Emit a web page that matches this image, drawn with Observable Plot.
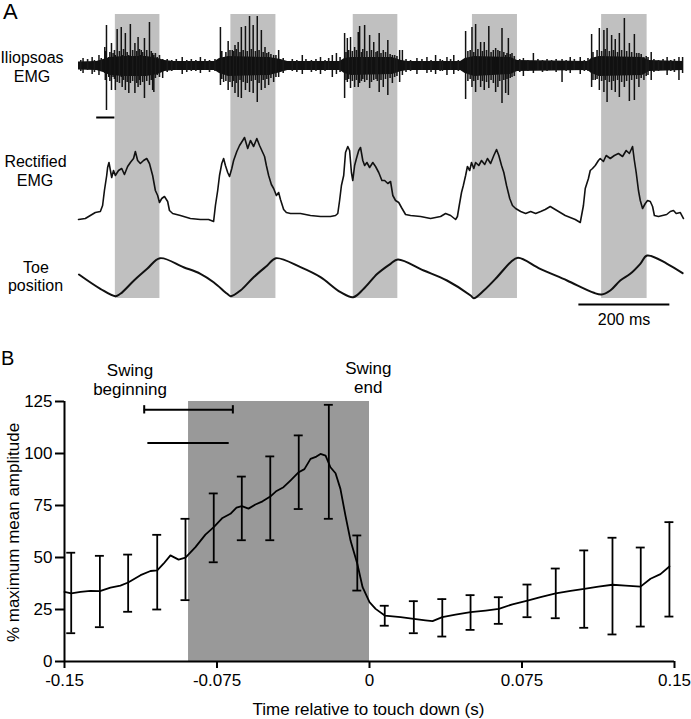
<!DOCTYPE html>
<html><head><meta charset="utf-8">
<script src="https://cdn.jsdelivr.net/npm/d3@7"></script>
<script src="https://cdn.jsdelivr.net/npm/@observablehq/plot@0.6"></script>
<style>
html,body{margin:0;padding:0;background:#fff;}
#fig{position:relative;width:691px;height:719px;overflow:hidden;font-family:"Liberation Sans",Arial,sans-serif;}
#fig svg{position:absolute;left:0;}
</style></head><body><div id="fig"></div>
<script>
// ---------- Panel A data (time in ms) ----------
const bandStart = [81, 335, 604, 866, 1150];
const bandEnd   = [179, 434, 702, 965, 1250];

// raw EMG: core envelope
const envT  = [0, 40, 55, 70, 100, 150, 175, 190, 210, 300, 310, 330, 420, 445, 460, 575, 585, 600, 690, 710, 725, 840, 850, 870, 950, 965, 1120, 1128, 1145, 1240, 1255, 1330];
const envHi = [3.5, 4, 6, 8, 9, 9, 7, 5, 4, 4, 7, 9, 8, 6, 4, 4, 7, 8, 8, 5, 4, 4, 7, 9, 8, 5, 4, 7, 9, 8, 5, 4];
const envLo = [-4.5, -5, -7, -10, -11, -11, -9, -6, -5, -5, -8, -11, -10, -7, -5, -5, -8, -10, -9, -6, -5, -5, -8, -11, -9, -6, -5, -8, -11, -10, -6, -5];

// raw EMG: large spikes
const spikeT = [10, 30, 45, 57.8, 61.5, 66.6, 72.5, 76, 81, 85, 94, 96, 103, 110.6, 114, 124, 131, 136, 138, 145, 156, 163, 165.6, 173, 185,
  228, 268, 312, 319, 329, 338, 344, 351, 358, 367, 376, 384, 393, 402, 410, 418, 429, 440, 492, 532, 558, 567,
  585, 591, 598, 607, 615, 618, 629, 640, 649, 661, 670, 680, 690, 706, 712, 744, 766, 785, 810, 825,
  851, 865, 873, 884, 892, 902, 912, 917, 922, 931, 939, 945, 953, 978, 1000, 1063, 1081, 1103,
  1128, 1136, 1145, 1155, 1162, 1172, 1180, 1189, 1200, 1211, 1222, 1232, 1243, 1259, 1294, 1320, 1328];
const spikeUp = [7, 8, 10, 18, 40, 8, 22, 12, 10, 36, 38, 10, 32, 10, 41, 22, 28, 10, 15, 27, 43, 12, 10, 8, 6,
  8, 8, 38, 8, 24, 15, 20, 23, 38, 39, 49, 40, 49, 35, 18, 13, 10, 15, 10, 8, 10, 12,
  32, 27, 28, 18, 33, 39, 40, 30, 23, 32, 15, 25, 10, 15, 15, 7, 8, 10, 8, 10,
  34, 38, 41, 23, 23, 39, 15, 17, 15, 37, 10, 27, 12, 7, 12, 6, 8, 8,
  31, 8, 37, 35, 37, 30, 26, 32, 47, 22, 31, 12, 8, 13, 8, 8, 8];
const spikeDown = [-8, -9, -10, -8, -45, -12, -25, -12, -25, -17, -12, -22, -25, -28, -18, -28, -22, -20, -10, -33, -20, -25, -27, -10, -13,
  -9, -8, -20, -17, -25, -22, -28, -32, -33, -25, -27, -28, -37, -25, -23, -20, -17, -12, -9, -9, -12, -9,
  -33, -17, -23, -22, -22, -18, -17, -23, -15, -27, -22, -30, -18, -17, -10, -9, -8, -9, -10, -9,
  -34, -22, -27, -22, -25, -23, -18, -27, -22, -38, -28, -30, -12, -11, -8, -17, -8, -9,
  -22, -15, -25, -27, -37, -25, -27, -32, -22, -36, -35, -22, -15, -15, -10, -15, -8];

// raw EMG: dense smaller deflections (burst cores and baseline noise)
const fineT = [59, 69, 79, 90, 99, 107, 119, 128, 134, 141, 150, 160, 169, 178,
  315, 324, 333, 341, 347, 355, 362, 371, 380, 389, 397, 406, 414, 423, 434,
  588, 594, 602, 611, 622, 625, 634, 644, 654, 657, 665, 675, 685, 695, 700,
  856, 861, 869, 878, 888, 897, 907, 926, 935, 942, 949, 958,
  1131, 1140, 1150, 1158, 1167, 1176, 1185, 1194, 1205, 1216, 1227, 1237, 1248, 1252,
  5, 20, 35, 50, 195, 205, 215, 238, 248, 258, 278, 288, 300, 450, 470, 480, 500, 512, 522, 542, 550, 575,
  720, 730, 755, 775, 795, 800, 818, 835, 970, 988, 1010, 1020, 1030, 1040, 1050, 1072, 1090, 1112, 1120,
  1265, 1275, 1285, 1302, 1310];
const fineUp = [14, 13, 15, 14, 16, 13, 15, 14, 16, 13, 15, 14, 12, 10,
  14, 13, 15, 14, 16, 13, 15, 14, 16, 14, 15, 13, 12, 11, 10,
  13, 15, 14, 15, 13, 16, 14, 15, 13, 14, 12, 13, 11, 10, 9,
  14, 15, 13, 16, 14, 15, 13, 14, 13, 12, 11, 9,
  13, 15, 14, 16, 14, 15, 13, 15, 14, 13, 12, 11, 9, 8,
  5, 6, 5, 7, 6, 5, 6, 5, 6, 5, 6, 5, 6, 7, 6, 5, 6, 5, 6, 5, 7, 8,
  6, 5, 6, 5, 6, 5, 6, 5, 6, 5, 6, 5, 6, 5, 6, 5, 6, 5, 7,
  6, 5, 6, 5, 6];
const fineDown = [-15, -16, -14, -18, -15, -17, -16, -18, -15, -17, -16, -15, -13, -12,
  -14, -16, -17, -16, -18, -15, -17, -18, -16, -15, -18, -15, -14, -13, -12,
  -15, -14, -16, -15, -16, -14, -15, -17, -14, -16, -15, -14, -13, -12, -11,
  -16, -14, -16, -15, -16, -17, -15, -16, -15, -14, -13, -11,
  -15, -14, -16, -15, -17, -16, -15, -17, -16, -15, -14, -13, -11, -10,
  -6, -5, -7, -6, -7, -6, -5, -7, -6, -6, -5, -7, -6, -8, -6, -7, -5, -7, -6, -6, -5, -7,
  -7, -6, -5, -7, -6, -6, -5, -6, -7, -6, -5, -7, -6, -5, -7, -6, -5, -6, -6,
  -7, -6, -5, -6, -7];
const emgScaleBar = [40, 80]; // horizontal bar under the raw trace (ms)

// rectified EMG
const rectT = [0, 15, 26, 37, 48, 53, 57, 62, 64, 67, 73, 77, 81, 88, 95, 101, 108, 114, 121, 125, 130, 136, 143, 150, 156, 163, 169, 174, 178, 183, 189, 196, 200, 207, 224, 246, 268, 286, 297,
  301, 306, 310, 315, 319, 323, 328, 332, 337, 341, 348, 354, 361, 365, 372, 378, 385, 392, 398, 405, 409, 413, 418, 424, 429, 435, 440, 444, 451, 457, 466, 488, 510, 532, 554, 565, 570,
  574, 578, 583, 587, 592, 596, 600, 603, 607, 611, 616, 620, 625, 629, 634, 640, 647, 653, 660, 667, 673, 680, 686, 691, 697, 704, 710, 719, 730, 752, 774, 796, 807, 818, 829, 833,
  837, 842, 846, 851, 855, 860, 864, 869, 873, 880, 886, 893, 899, 906, 913, 919, 924, 930, 935, 941, 948, 954, 961, 972, 983, 994, 1005, 1016, 1026, 1037, 1048, 1059, 1070, 1081, 1092, 1103,
  1110, 1114, 1121, 1125, 1130, 1136, 1143, 1147, 1154, 1160, 1169, 1178, 1187, 1196, 1204, 1211, 1218, 1222, 1226, 1231, 1235, 1240, 1246, 1251, 1257, 1262, 1266, 1275, 1284, 1293, 1301, 1308, 1314, 1323, 1330];
const rectA = [3, 4, 7, 10, 11, 17, 32, 47, 55, 60, 45, 52, 47, 52, 54, 48, 56, 60, 64, 71, 62, 59, 62, 64, 59, 47, 32, 27, 20, 24, 26, 21, 12, 9, 7, 4, 3, 3, 1,
  17, 32, 47, 59, 64, 57, 50, 46, 54, 62, 71, 77, 82, 85, 74, 82, 76, 84, 77, 70, 66, 57, 47, 38, 34, 27, 30, 23, 13, 10, 9, 9, 7, 6, 6, 7, 9,
  22, 37, 47, 70, 76, 72, 50, 42, 57, 64, 72, 75, 62, 57, 60, 55, 60, 56, 50, 42, 42, 39, 41, 27, 22, 20, 15, 8, 7, 6, 4, 6, 9, 7, 3, 6,
  17, 30, 37, 47, 56, 52, 60, 54, 60, 57, 62, 58, 64, 59, 67, 73, 67, 57, 50, 37, 24, 17, 14, 11, 9, 11, 9, 11, 13, 16, 13, 10, 7, 5, 3, 0,
  17, 34, 44, 52, 54, 57, 62, 64, 61, 67, 64, 67, 69, 66, 72, 69, 76, 62, 50, 32, 22, 14, 19, 22, 21, 16, 7, 6, 7, 8, 11, 12, 9, 10, 4];

// toe position
const toeT = [1, 48, 81, 92, 122, 151, 179, 231, 268, 297, 327, 335, 356, 385, 415, 434, 488, 532, 576, 604, 627, 657, 686, 702, 759, 810, 862, 869, 891, 920, 950, 966, 1015, 1074, 1133, 1150, 1169, 1191, 1213, 1235, 1250, 1294, 1328];
const toeV = [22, 7.7, 0.3, 2.7, 16, 27.7, 38.3, 29.3, 22.7, 14.3, 2.7, 0.3, 6, 19.3, 31, 38.3, 29.3, 19.3, 4.3, -0.7, 7.7, 22.7, 32.7, 37, 26, 16, 1, -1.7, 6, 19.3, 34.3, 38.7, 27.7, 16, 3.7, 2, 6, 16, 22.7, 32.7, 41, 32.7, 23.3];
const timeScaleBar = [1100, 1300]; // 200 ms

// ---------- Panel B data ----------
const meanT = [-0.15, -0.1467, -0.1421, -0.1372, -0.1326, -0.1274, -0.1225, -0.1187, -0.1126, -0.1077, -0.1044, -0.1013, -0.0979, -0.0939, -0.0905, -0.0856, -0.0807, -0.0766, -0.0723, -0.0684, -0.0654, -0.0628, -0.0595, -0.0561, -0.0526, -0.0488, -0.0457, -0.0423, -0.0389, -0.0348, -0.0320, -0.0290, -0.0261, -0.0241, -0.0216, -0.0192, -0.0167, -0.0143, -0.0118, -0.0093, -0.0060, -0.0034, 0, 0.0030, 0.0075, 0.0153, 0.0218, 0.0275, 0.0310, 0.0358, 0.0423, 0.0497, 0.0571, 0.0636, 0.0703, 0.0777, 0.0841, 0.0916, 0.0989, 0.1056, 0.1126, 0.1195, 0.1259, 0.1333, 0.1382, 0.1431, 0.1475];
const meanV = [33.5, 32.8, 33.5, 34, 33.8, 35.5, 36.5, 38, 41.5, 43.5, 43.8, 47, 51, 49, 49.9, 55, 61, 64.6, 69, 71, 74, 74.7, 73.5, 75.5, 77, 79.3, 82, 83.8, 87, 91, 92.5, 97.4, 98.5, 99.8, 99, 93.4, 90.5, 83, 70, 58, 47, 35.7, 28.5, 25.3, 22.1, 21.3, 20.5, 19.8, 19.4, 21.3, 22.5, 23.7, 24.5, 25.3, 27.5, 29.3, 31, 32.8, 34, 34.9, 36, 36.9, 36.5, 36, 39.8, 42, 45.7];
const errT  = [-0.1467, -0.1326, -0.1187, -0.1044, -0.0905, -0.0766, -0.0628, -0.0488, -0.0348, -0.0200, -0.0060, 0.0075, 0.0218, 0.0358, 0.0497, 0.0636, 0.0777, 0.0916, 0.1056, 0.1195, 0.1334, 0.1475];
const errHi = [52.3, 50.8, 51.4, 60.9, 68.6, 80.8, 88.9, 98.6, 108.7, 123.4, 60.6, 26.8, 29, 30, 31.9, 30.9, 37, 44.7, 53.4, 59.5, 54.8, 67];
const errLo = [13.6, 16.5, 23.9, 25, 29.5, 47.7, 58.3, 58.3, 73.3, 68.6, 34.1, 17.2, 13.6, 12, 15.2, 18.1, 21.3, 20.8, 16.2, 13, 16.8, 21.6];
const swingShade = [-0.089, 0];
const swingBeginMean = -0.089;
const swingBarLevel = [121, 105];
const swingBarHalf = [0.0218, 0.0200];
const xTicks = [-0.15, -0.075, 0, 0.075, 0.15];
const yTicks = [0, 25, 50, 75, 100, 125];

// ---------- build ----------
const FONT = '"Liberation Sans", Arial, sans-serif';
const fig = document.getElementById("fig");
const W = 691, ML = 78, MR = 8;
const bands = bandStart.map((s, i) => ({s, e: bandEnd[i]}));
const env = envT.map((t, i) => ({t, hi: envHi[i], lo: envLo[i]}));
const spikes = spikeT.map((t, i) => ({t, hi: spikeUp[i], lo: spikeDown[i]}));
const fine = fineT.map((t, i) => ({t, hi: fineUp[i], lo: fineDown[i]}));
const rect = rectT.map((t, i) => ({t, a: rectA[i]}));
const toe = toeT.map((t, i) => ({t, v: toeV[i]}));
const BAND = "#c0c0c0";
const baseA = {width: W, marginLeft: ML, marginRight: MR, marginTop: 0, style: {background: "transparent"}};

function place(svg, top) { svg.style.top = top + "px"; fig.appendChild(svg); }

place(Plot.plot({...baseA, height: 112, marginBottom: 0,
  x: {domain: [0, 1330], axis: null}, y: {domain: [-61, 51], axis: null},
  marks: [
    Plot.rect(bands, {x1: "s", x2: "e", fill: BAND}),
    Plot.areaY(env, {x: "t", y1: "lo", y2: "hi", fill: "#111"}),
    Plot.ruleX(fine, {x: "t", y1: "lo", y2: "hi", stroke: "#1a1a1a", strokeWidth: 1.6}),
    Plot.ruleX(spikes, {x: "t", y1: "lo", y2: "hi", stroke: "#111", strokeWidth: 1.5}),
    Plot.ruleY([{x1: emgScaleBar[0], x2: emgScaleBar[1]}], {x1: "x1", x2: "x2", y: () => -52, stroke: "#000", strokeWidth: 2})
  ]}), 14);

place(Plot.plot({...baseA, height: 110, marginBottom: 0,
  x: {domain: [0, 1330], axis: null}, y: {domain: [-14, 96], axis: null},
  marks: [
    Plot.rect(bands, {x1: "s", x2: "e", fill: BAND}),
    Plot.line(rect, {x: "t", y: "a", stroke: "#111", strokeWidth: 1.6})
  ]}), 126);

place(Plot.plot({...baseA, height: 92, marginBottom: 30,
  x: {domain: [0, 1330], axis: null}, y: {domain: [-2, 60], axis: null},
  marks: [
    Plot.rect(bands, {x1: "s", x2: "e", fill: BAND}),
    Plot.line(toe, {x: "t", y: "v", curve: "catmull-rom", stroke: "#111", strokeWidth: 2}),
    Plot.ruleY([{x1: timeScaleBar[0], x2: timeScaleBar[1]}], {x1: "x1", x2: "x2", y: () => 0, dy: 8, stroke: "#000", strokeWidth: 2})
  ]}), 236);

// Panel B
const mean = meanT.map((t, i) => ({t, v: meanV[i]}));
const err = errT.map((t, i) => ({t, hi: errHi[i], lo: errLo[i]}));
const CAP = 0.0022;
const swingBars = swingBarLevel.map((y, i) => ({y, x1: swingBeginMean - swingBarHalf[i], x2: swingBeginMean + swingBarHalf[i], cap: i === 0}));
const swingCaps = swingBars.filter(d => d.cap).flatMap(d => [{x: d.x1, y: d.y}, {x: d.x2, y: d.y}]);

place(Plot.plot({
  width: W, height: 389, marginLeft: 64, marginRight: 17, marginTop: 71, marginBottom: 58,
  x: {domain: [xTicks[0], xTicks[xTicks.length - 1]]},
  y: {domain: [yTicks[0], yTicks[yTicks.length - 1]]},
  style: {fontFamily: FONT, fontSize: "17px", color: "#000", background: "transparent"},
  marks: [
    Plot.rect([{x1: swingShade[0], x2: swingShade[1]}], {x1: "x1", x2: "x2", y1: () => yTicks[0], y2: () => yTicks[yTicks.length - 1], fill: "#999999"}),
    Plot.ruleX(err, {x: "t", y1: "lo", y2: "hi", stroke: "#000", strokeWidth: 1.8}),
    Plot.ruleY(err, {y: "hi", x1: d => d.t - CAP, x2: d => d.t + CAP, stroke: "#000", strokeWidth: 1.8}),
    Plot.ruleY(err, {y: "lo", x1: d => d.t - CAP, x2: d => d.t + CAP, stroke: "#000", strokeWidth: 1.8}),
    Plot.line(mean, {x: "t", y: "v", stroke: "#000", strokeWidth: 1.8}),
    Plot.ruleY(swingBars, {y: "y", x1: "x1", x2: "x2", stroke: "#000", strokeWidth: 2}),
    Plot.ruleX(swingCaps, {x: "x", y1: d => d.y - 2, y2: d => d.y + 2, stroke: "#000", strokeWidth: 2}),
    Plot.axisX({ticks: xTicks, tickSize: 7, tickPadding: 5, strokeWidth: 2, label: null, tickFormat: d => d === 0 ? "0" : String(d)}),
    Plot.axisY({ticks: yTicks, tickSize: 9, tickPadding: 3, strokeWidth: 2, label: null, tickFormat: d => String(d)}),
    Plot.ruleX([xTicks[0]], {y1: yTicks[0], y2: yTicks[yTicks.length - 1], stroke: "#000", strokeWidth: 2}),
    Plot.ruleY([yTicks[0]], {x1: xTicks[0], x2: xTicks[xTicks.length - 1], stroke: "#000", strokeWidth: 2})
  ]}), 330);

// text overlay
const NS = "http://www.w3.org/2000/svg";
const ov = document.createElementNS(NS, "svg");
ov.setAttribute("width", W); ov.setAttribute("height", 719);
ov.style.top = "0px"; ov.style.pointerEvents = "none";
function txt(s, x, y, size, anchor = "middle", transform) {
  const t = document.createElementNS(NS, "text");
  t.textContent = s;
  if (transform) t.setAttribute("transform", transform); else { t.setAttribute("x", x); t.setAttribute("y", y); }
  t.setAttribute("font-size", size); t.setAttribute("font-family", FONT);
  t.setAttribute("text-anchor", anchor); t.setAttribute("fill", "#000");
  ov.appendChild(t);
}
txt("A", 3, 19, 22, "start");
txt("Iliopsoas", 32, 63, 16); txt("EMG", 32, 81.5, 16);
txt("Rectified", 35.5, 166.5, 16); txt("EMG", 35, 185.5, 16);
txt("Toe", 36, 273, 16); txt("position", 35.5, 291, 16);
txt("200 ms", 624, 325, 16);
txt("B", 1, 365, 20, "start");
txt("Swing", 130, 376, 17); txt("beginning", 130, 395, 17);
txt("Swing", 368.3, 374, 17); txt("end", 368.3, 393, 17);
txt("% maximum mean amplitude", 0, 0, 17, "middle", "translate(18.5,532.5) rotate(-90)");
txt("Time relative to touch down (s)", 368.5, 715, 17);
fig.appendChild(ov);
</script></body></html>
